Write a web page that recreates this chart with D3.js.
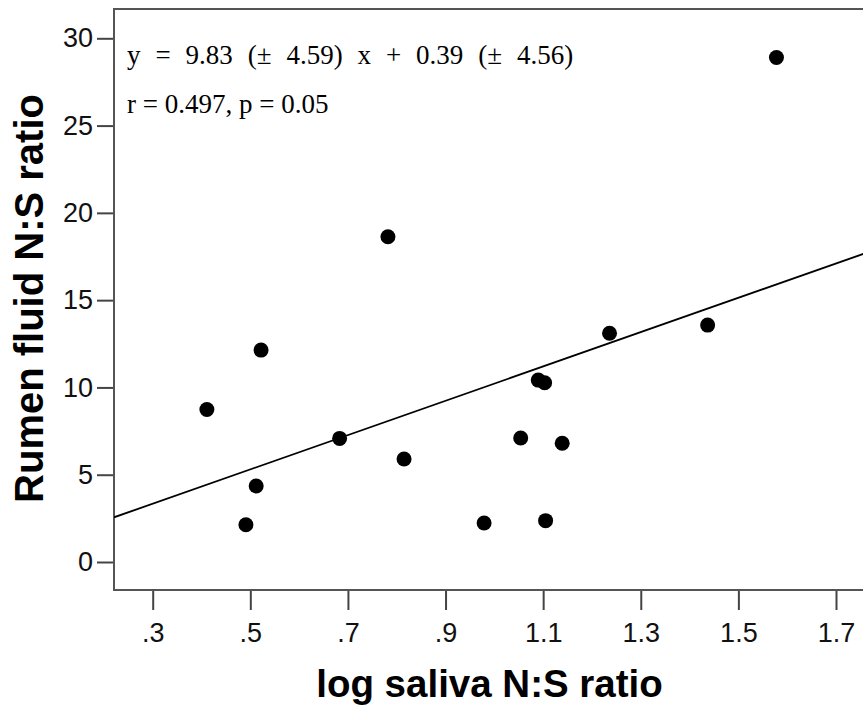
<!DOCTYPE html>
<html>
<head>
<meta charset="utf-8">
<script src="https://cdn.jsdelivr.net/npm/d3@7"></script>
<style>
  html, body { margin: 0; padding: 0; background: #fff; overflow: hidden; }
  svg { display: block; }
</style>
</head>
<body>
<div id="chart"></div>
<script>
// log saliva N:S ratio (x) vs rumen fluid N:S ratio (y)
const salivaLog = [0.411, 0.491, 0.512, 0.522, 0.683, 0.782, 0.815, 0.979, 1.054, 1.090, 1.103, 1.105, 1.139, 1.236, 1.437, 1.578];
const rumenRatio = [8.74, 2.13, 4.35, 12.14, 7.08, 18.63, 5.90, 2.23, 7.10, 10.42, 10.27, 2.37, 6.80, 13.10, 13.57, 28.90];

// fitted line
const slope = 9.83;
const intercept = 0.39;

const xTickValues = [0.3, 0.5, 0.7, 0.9, 1.1, 1.3, 1.5, 1.7];
const xTickLabels = [".3", ".5", ".7", ".9", "1.1", "1.3", "1.5", "1.7"];
const yTickValues = [0, 5, 10, 15, 20, 25, 30];
const yTickLabels = ["0", "5", "10", "15", "20", "25", "30"];

const equationText = "y  =  9.83  (±  4.59)  x  +  0.39  (±  4.56)";
const statsText = "r = 0.497, p = 0.05";

const width = 863;
const height = 709;
const plot = { left: 114, top: 9, right: 900, bottom: 590 };

const svg = d3.select("#chart")
    .append("svg")
    .attr("width", width)
    .attr("height", height);

const xScale = d3.scaleLinear()
    .domain([0.3, 1.7])
    .range([152.7, 836]);

const yScale = d3.scaleLinear()
    .domain([0, 30])
    .range([562, 38.3]);

svg.append("clipPath")
    .attr("id", "plot-clip")
    .append("rect")
    .attr("x", plot.left)
    .attr("y", plot.top)
    .attr("width", plot.right - plot.left)
    .attr("height", plot.bottom - plot.top);

// Y axis
const yAxis = svg.append("g")
    .attr("transform", `translate(${plot.left}, 0)`)
    .call(d3.axisLeft(yScale)
        .tickValues(yTickValues)
        .tickFormat((d, i) => yTickLabels[i])
        .tickSize(17)
        .tickPadding(4));
yAxis.select(".domain").remove();
yAxis.selectAll(".tick line").attr("stroke", "#444").attr("stroke-width", 2);
yAxis.selectAll(".tick text")
    .attr("font-family", "Liberation Sans, Arial, sans-serif")
    .attr("font-size", "27px")
    .attr("fill", "#111");

// X axis
const xAxis = svg.append("g")
    .attr("transform", `translate(0, ${plot.bottom})`)
    .call(d3.axisBottom(xScale)
        .tickValues(xTickValues)
        .tickFormat((d, i) => xTickLabels[i])
        .tickSize(20)
        .tickPadding(13));
xAxis.select(".domain").remove();
xAxis.selectAll(".tick line").attr("stroke", "#444").attr("stroke-width", 2);
xAxis.selectAll(".tick text")
    .attr("font-family", "Liberation Sans, Arial, sans-serif")
    .attr("font-size", "27px")
    .attr("fill", "#111");

// Frame
svg.append("rect")
    .attr("x", plot.left)
    .attr("y", plot.top)
    .attr("width", plot.right - plot.left)
    .attr("height", plot.bottom - plot.top)
    .attr("fill", "none")
    .attr("stroke", "#555")
    .attr("stroke-width", 2);

// Regression line
const xDomainEnds = [xScale.invert(plot.left), xScale.invert(plot.right)];
svg.append("line")
    .attr("clip-path", "url(#plot-clip)")
    .attr("x1", xScale(xDomainEnds[0]))
    .attr("y1", yScale(slope * xDomainEnds[0] + intercept))
    .attr("x2", xScale(xDomainEnds[1]))
    .attr("y2", yScale(slope * xDomainEnds[1] + intercept))
    .attr("stroke", "#000")
    .attr("stroke-width", 1.8);

// Points
svg.append("g")
    .selectAll("circle")
    .data(salivaLog)
    .enter()
    .append("circle")
    .attr("cx", d => xScale(d))
    .attr("cy", (d, i) => yScale(rumenRatio[i]))
    .attr("r", 7.5)
    .attr("fill", "#000");

// Equation text
svg.append("text")
    .attr("x", 127)
    .attr("y", 64)
    .attr("font-family", "Liberation Serif, 'DejaVu Serif', serif")
    .attr("font-size", "27px")
    .attr("word-spacing", "0.7px")
    .style("white-space", "pre")
    .text(equationText);

svg.append("text")
    .attr("x", 127)
    .attr("y", 113)
    .attr("font-family", "Liberation Serif, 'DejaVu Serif', serif")
    .attr("font-size", "27px")
    .text(statsText);

// Axis titles
svg.append("text")
    .attr("x", 489.5)
    .attr("y", 697)
    .attr("text-anchor", "middle")
    .attr("font-family", "Liberation Sans, Arial, sans-serif")
    .attr("font-weight", "bold")
    .attr("font-size", "38.5px")
    .text("log saliva N:S ratio");

svg.append("text")
    .attr("transform", "translate(43, 298.5) rotate(-90)")
    .attr("text-anchor", "middle")
    .attr("font-family", "Liberation Sans, Arial, sans-serif")
    .attr("font-weight", "bold")
    .attr("font-size", "40px")
    .text("Rumen fluid N:S ratio");
</script>
</body>
</html>
